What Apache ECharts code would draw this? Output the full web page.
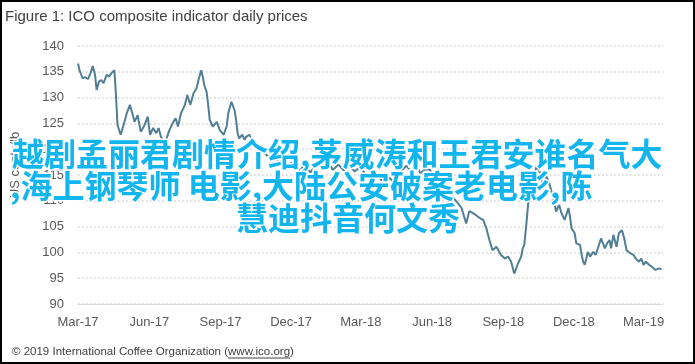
<!DOCTYPE html>
<html>
<head>
<meta charset="utf-8">
<script src="https://cdn.jsdelivr.net/npm/echarts@6/dist/echarts.min.js"></script>
<style>
  html, body { margin: 0; padding: 0; background: #ffffff; }
  #chart { width: 695px; height: 364px; }
</style>
</head>
<body>
<div id="chart"></div>
<script>
// ---- Data ----
const titleText = 'Figure 1: ICO composite indicator daily prices';
const yAxisTitle = 'US cents/lb';
const footerText = '\u00A9 2019 International Coffee Organization (';
const footerLink = 'www.ico.org';
const overlayLines = [
  '越剧孟丽君剧情介绍,茅威涛和王君安谁名气大',
  ',海上钢琴师 电影,大陆公安破案老电影,陈',
  '慧迪抖音何文秀'
];

const tickDates = ['2017-03-01','2017-06-01','2017-09-01','2017-12-01','2018-03-01','2018-06-01','2018-09-01','2018-12-01','2019-03-01'];
const tickLabels = ['Mar-17','Jun-17','Sep-17','Dec-17','Mar-18','Jun-18','Sep-18','Dec-18','Mar-19'];
const yTicks = [90, 95, 100, 105, 110, 115, 120, 125, 130, 135, 140];

const dates = [
 '2017-03-01','2017-03-03','2017-03-07','2017-03-10','2017-03-14','2017-03-17','2017-03-20','2017-03-23','2017-03-25','2017-03-28','2017-03-31',
 '2017-04-03','2017-04-07','2017-04-10','2017-04-13','2017-04-15','2017-04-17','2017-04-19','2017-04-21','2017-04-25','2017-04-30',
 '2017-05-03','2017-05-07','2017-05-10','2017-05-13','2017-05-17','2017-05-21','2017-05-26','2017-05-30',
 '2017-06-02','2017-06-06','2017-06-10','2017-06-13','2017-06-16','2017-06-21','2017-06-27',
 '2017-07-02','2017-07-05','2017-07-08','2017-07-12','2017-07-17','2017-07-20','2017-07-24','2017-07-28',
 '2017-08-01','2017-08-04','2017-08-07','2017-08-09','2017-08-11','2017-08-14','2017-08-16','2017-08-18','2017-08-22','2017-08-27','2017-08-31',
 '2017-09-05','2017-09-09','2017-09-11','2017-09-15','2017-09-19','2017-09-21','2017-09-23','2017-09-25','2017-09-29',
 '2017-10-02','2017-10-04','2017-10-08','2017-10-14','2017-10-21','2017-10-30',
 '2017-11-07','2017-11-12','2017-11-17','2017-11-25',
 '2017-12-01','2017-12-06','2017-12-12','2017-12-18','2017-12-26',
 '2018-01-03','2018-01-10','2018-01-17','2018-01-24','2018-01-31',
 '2018-02-07','2018-02-14','2018-02-21','2018-02-28',
 '2018-03-07','2018-03-14','2018-03-21','2018-03-28',
 '2018-04-04','2018-04-11','2018-04-18','2018-04-29',
 '2018-05-05','2018-05-11','2018-05-17','2018-05-23','2018-05-29',
 '2018-06-08','2018-06-14','2018-06-20','2018-06-26',
 '2018-07-04','2018-07-09','2018-07-15','2018-07-19','2018-07-26',
 '2018-08-01','2018-08-06','2018-08-10','2018-08-14','2018-08-18','2018-08-23','2018-08-29',
 '2018-09-03','2018-09-07','2018-09-11','2018-09-15','2018-09-20','2018-09-24','2018-09-26','2018-09-28',
 '2018-10-01','2018-10-03','2018-10-06','2018-10-10','2018-10-14','2018-10-18','2018-10-22','2018-10-26','2018-10-30',
 '2018-11-04','2018-11-08','2018-11-12','2018-11-15','2018-11-19','2018-11-24','2018-11-26','2018-11-28',
 '2018-12-02','2018-12-04','2018-12-09','2018-12-11','2018-12-13','2018-12-15','2018-12-17','2018-12-19','2018-12-22','2018-12-26','2018-12-29',
 '2019-01-01','2019-01-05','2019-01-10','2019-01-13','2019-01-16','2019-01-18','2019-01-21','2019-01-25','2019-01-28',
 '2019-02-01','2019-02-04','2019-02-07','2019-02-12','2019-02-16','2019-02-19','2019-02-23','2019-02-26',
 '2019-03-01','2019-03-04','2019-03-08','2019-03-12','2019-03-16','2019-03-21','2019-03-24'
];
const prices = [
 136.6,135.3,133.7,134.0,133.6,134.7,136.1,134.4,131.5,133.1,133.4,
 132.8,134.4,134.1,134.7,134.4,135.3,130.5,124.7,122.8,125.3,
 127.0,128.6,127.0,125.3,126.6,123.4,124.7,126.3,
 122.8,124.1,123.1,124.1,122.4,121.1,123.7,
 125.3,126.0,124.4,127.0,128.6,130.5,128.6,130.8,
 131.8,133.7,135.3,134.1,132.4,131.1,128.6,125.7,124.4,125.3,123.7,
 122.8,124.5,127.0,129.2,127.6,125.7,123.1,122.1,122.8,
 121.8,122.4,122.8,121.5,120.5,118.9,
 117.9,118.2,117.0,116.0,
 117.3,116.9,115.8,116.9,115.5,
 117.2,116.4,117.6,116.0,117.0,
 115.9,116.8,115.7,116.5,
 115.2,114.3,115.0,114.0,
 114.8,113.9,115.2,116.8,
 115.6,116.9,115.4,116.1,116.0,
 113.5,112.0,110.2,111.0,
 109.6,108.6,105.6,108.0,107.4,
 106.7,106.3,104.7,102.4,100.4,101.1,99.5,
 98.8,99.2,98.2,95.9,97.9,99.2,100.8,101.5,
 106.0,109.5,111.5,114.5,116.8,115.5,113.2,114.8,113.5,
 110.8,107.9,109.2,107.6,106.3,108.6,106.9,104.7,
 103.7,101.8,101.4,99.5,98.2,97.6,98.8,100.1,99.2,100.1,99.5,
 100.8,102.7,100.8,101.8,102.4,100.8,103.4,101.1,103.7,
 104.3,102.7,100.4,99.8,99.5,98.8,98.2,98.8,
 97.6,98.2,97.6,97.2,96.6,96.9,96.7
];
const xMin = '2017-03-01';
const xMax = '2019-03-26';

// ---- Helpers ----
function parseLocal(s) {
  const p = s.split('-').map(Number);
  return new Date(p[0], p[1] - 1, p[2]).getTime();
}
const tickTimes = tickDates.map(parseLocal);
const seriesData = dates.map((d, i) => [parseLocal(d), prices[i]]);

const labelFont = '"Liberation Sans", Arial, sans-serif';
const cjkFont = '"Noto Sans CJK SC", sans-serif';

// measure footer text for underline placement
const footerFont = '11.5px ' + labelFont;
const mctx = document.createElement('canvas').getContext('2d');
mctx.font = footerFont;
const footerPreW = mctx.measureText(footerText).width;
const linkW = mctx.measureText(footerLink).width;
const footerX = 12, footerY = 352;

const chart = echarts.init(document.getElementById('chart'), null, { renderer: 'canvas' });
chart.setOption({
  animation: false,
  backgroundColor: '#ffffff',
  grid: { left: 78, right: 32, top: 46, bottom: 60 },
  xAxis: {
    type: 'value',
    min: parseLocal(xMin),
    max: parseLocal(xMax),
    axisLine: { show: true, lineStyle: { color: '#d9d9d9', width: 1 } },
    axisTick: { show: false },
    splitLine: { show: false },
    axisLabel: {
      customValues: tickTimes,
      margin: 12,
      color: '#595959',
      fontSize: 13,
      fontFamily: labelFont,
      hideOverlap: false,
      showMinLabel: true,
      showMaxLabel: true,
      formatter: function (val) {
        let best = 0, bd = Infinity;
        tickTimes.forEach((t, i) => { const dd = Math.abs(t - val); if (dd < bd) { bd = dd; best = i; } });
        return tickLabels[best];
      }
    }
  },
  yAxis: {
    type: 'value',
    min: yTicks[0],
    max: yTicks[yTicks.length - 1],
    interval: 5,
    axisLine: { show: false },
    axisTick: { show: false },
    axisLabel: { color: '#595959', fontSize: 13, fontFamily: labelFont, margin: 14 },
    splitLine: { show: true, lineStyle: { color: '#d0d0d0', width: 1.5, type: [1.5, 2.5] } }
  },
  series: [{
    type: 'line',
    data: seriesData,
    showSymbol: false,
    symbol: 'none',
    lineStyle: { color: '#527e93', width: 2 },
    z: 2
  }],
  graphic: [
    { type: 'rect', shape: { x: 1, y: 1, width: 693, height: 362 }, style: { fill: 'none', stroke: '#000000', lineWidth: 2 }, z: 100 },
    { type: 'text', x: 5, y: 17, style: { text: titleText, font: '15px ' + labelFont, fill: '#404040', textVerticalAlign: 'middle' } },
    { type: 'text', x: 15, y: 165, rotation: Math.PI / 2, style: { text: yAxisTitle, font: '13px ' + labelFont, fill: '#595959', textAlign: 'center', textVerticalAlign: 'middle' } },
    { type: 'text', x: footerX, y: footerY, style: { text: footerText + footerLink + ')', font: footerFont, fill: '#404040', textVerticalAlign: 'middle' } },
    { type: 'line', shape: { x1: footerX + footerPreW, y1: footerY + 6, x2: footerX + footerPreW + linkW, y2: footerY + 6 }, style: { stroke: '#404040', lineWidth: 1 } },
    { type: 'text', x: 12, y: 154, z: 50, style: { text: overlayLines[0], font: 'bold 32px ' + cjkFont, fill: '#12b5ee', stroke: '#ffffff', lineWidth: 3, textVerticalAlign: 'middle' } },
    { type: 'text', x: 10, y: 186, z: 50, style: { text: overlayLines[1], font: 'bold 32px ' + cjkFont, fill: '#12b5ee', stroke: '#ffffff', lineWidth: 3, textVerticalAlign: 'middle' } },
    { type: 'text', x: 236, y: 218, z: 50, style: { text: overlayLines[2], font: 'bold 32px ' + cjkFont, fill: '#12b5ee', stroke: '#ffffff', lineWidth: 3, textVerticalAlign: 'middle' } }
  ]
});
</script>
</body>
</html>
